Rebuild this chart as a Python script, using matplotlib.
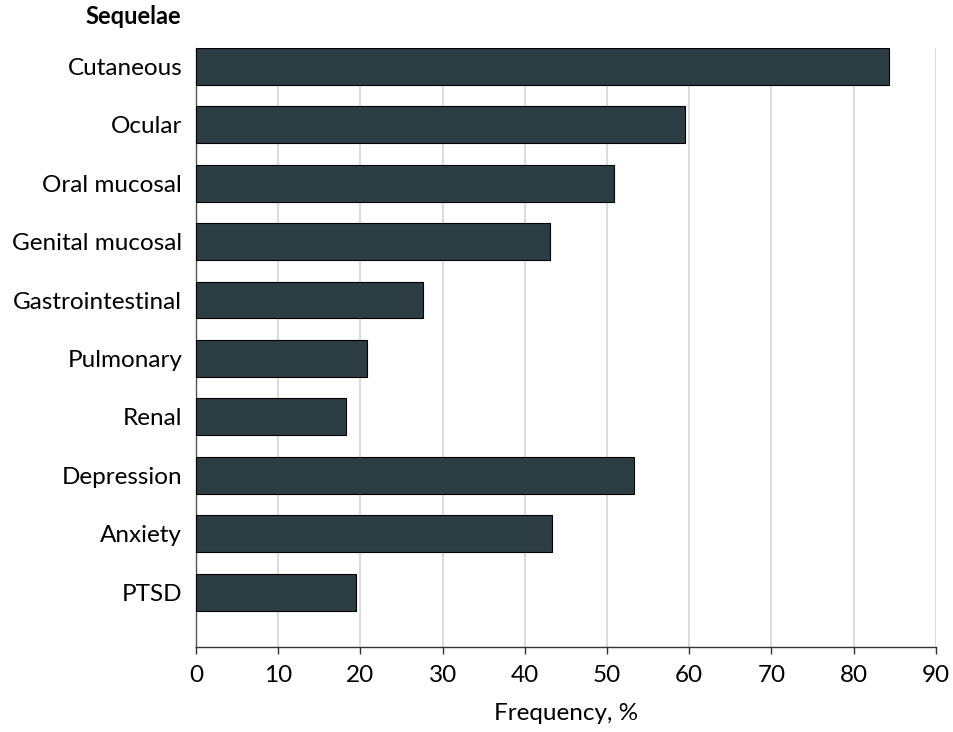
import numpy as np
import matplotlib
matplotlib.use('Agg')
from matplotlib import pyplot as plt

# data
sequelae = ['Cutaneous', 'Ocular', 'Oral mucosal', 'Genital mucosal', 'Gastrointestinal',
            'Pulmonary', 'Renal', 'Depression', 'Anxiety', 'PTSD']
frequency = [84.3, 59.5, 50.8, 43.1, 27.6, 20.8, 18.3, 53.3, 43.3, 19.5]
xticks = [0, 10, 20, 30, 40, 50, 60, 70, 80, 90]

plt.rcParams['font.family'] = ['Lato', 'DejaVu Sans']

fig = plt.figure(figsize=(9.54, 7.32), dpi=100)
ax = fig.add_axes([0.2055, 0.1161, 0.7755, 0.8183])

y = np.arange(len(sequelae))
ax.barh(y, frequency, height=0.63, color='#2c3e44', edgecolor='black', linewidth=0.8, zorder=3)

ax.set_xlim(0, 90)
ax.set_ylim(len(sequelae) - 1 + 0.94, -0.315)
ax.set_xticks(xticks)
ax.set_yticks(y)
ax.set_yticklabels(sequelae)
ax.grid(axis='x', color='#dcdcdc', linewidth=1.5, zorder=0)
ax.set_axisbelow(True)

for s in ['top', 'right']:
    ax.spines[s].set_visible(False)
ax.spines['left'].set_color('#555555')
ax.spines['bottom'].set_color('#333333')
ax.spines['left'].set_linewidth(1.0)
ax.spines['bottom'].set_linewidth(1.0)

ax.tick_params(axis='y', length=0, pad=10, labelsize=17.5)
ax.tick_params(axis='x', length=5, width=1, direction='out', color='#333333', pad=8, labelsize=17.5)
ax.set_xlabel('Frequency, %', fontsize=17.5, labelpad=12)

fig.text(181 / 954, 1 - 17 / 732, 'Sequelae', ha='right', va='center', fontsize=17, fontweight='bold')

fig.savefig('out.png', dpi=100)
